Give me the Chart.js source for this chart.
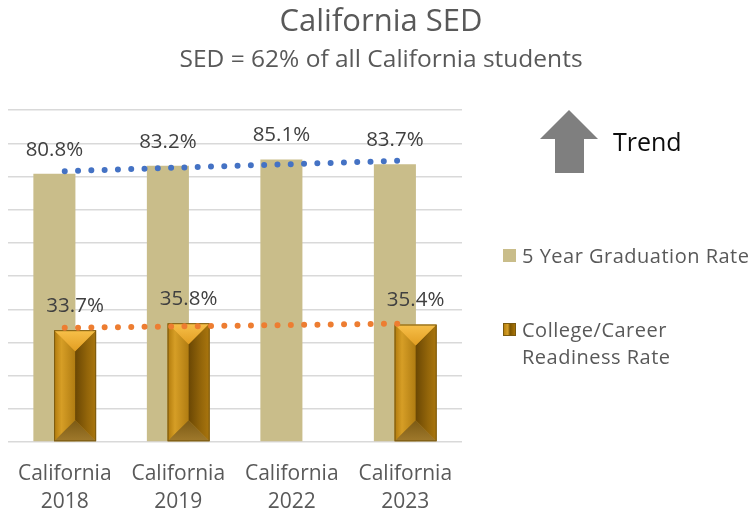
<!DOCTYPE html>
<html><head><meta charset="utf-8">
<script src="https://cdn.jsdelivr.net/npm/chart.js@4.4.1/dist/chart.umd.min.js"></script>
<style>
html,body{margin:0;padding:0;background:#fff;}
#wrap{position:relative;width:754px;height:515px;font-family:'Open Sans',sans-serif;overflow:hidden;}
#c{position:absolute;left:0;top:0;}
.leg{position:absolute;color:#595959;font-size:20px;letter-spacing:0.5px;line-height:27px;white-space:nowrap;}
.sw{position:absolute;width:13px;height:13px;box-sizing:border-box;}
#trend{position:absolute;left:613px;top:126px;font-size:25px;line-height:30px;color:#0d0d0d;}
</style></head><body>
<div id="wrap">
<canvas id="c" width="754" height="515"></canvas>
<svg style="position:absolute;left:538px;top:108px" width="64" height="68"><polygon points="31,2 60,31 46,31 46,65 17,65 17,31 2,31" fill="#7F7F7F"/></svg>
<div id="trend">Trend</div>
<div class="sw" style="left:503px;top:249px;background:#C9BD8A"></div>
<div class="leg" style="left:522px;top:241.5px">5 Year Graduation Rate</div>
<div class="sw" style="left:503px;top:323px;background:linear-gradient(90deg,#B8820F,#D6A02A 35%,#7A5400 55%,#A87408);border:1px solid #7A5A10"></div>
<div class="leg" style="left:522px;top:316px">College/Career<br>Readiness Rate</div>
</div>
<script>
const categories = [['California','2018'],['California','2019'],['California','2022'],['California','2023']];
const gradRate = [80.8, 83.2, 85.1, 83.7];
const ccrRate = [33.7, 35.8, null, 35.4];
const gradTrend = [81.6, null, null, 84.8];
const ccrTrend = [34.4, null, null, 35.7];
const seriesNames = ['5 Year Graduation Rate', 'College/Career Readiness Rate'];
const yMin = 0, yMax = 100, yStep = 10;

const GRAD = 2, CCR = 3;

function drawBevel(chart, meta){
  const ctx = chart.ctx;
  meta.data.forEach((el, i) => {
    if (ccrRate[i] === null) return;
    const p = el.getProps(['x','y','base','width'], true);
    const l = p.x - p.width/2, r = p.x + p.width/2, t = p.y, b = p.base, h = p.width/2;
    ctx.save();
    let g = ctx.createLinearGradient(l,0,p.x,0);
    g.addColorStop(0,'#B07A0C'); g.addColorStop(0.35,'#D69E26'); g.addColorStop(1,'#B07C12');
    ctx.fillStyle = g;
    ctx.beginPath(); ctx.moveTo(l,t); ctx.lineTo(p.x,t+h); ctx.lineTo(p.x,b-h); ctx.lineTo(l,b); ctx.closePath(); ctx.fill();
    g = ctx.createLinearGradient(p.x,0,r,0);
    g.addColorStop(0,'#6A4704'); g.addColorStop(0.6,'#94660A'); g.addColorStop(1,'#AA760E');
    ctx.fillStyle = g;
    ctx.beginPath(); ctx.moveTo(r,t); ctx.lineTo(p.x,t+h); ctx.lineTo(p.x,b-h); ctx.lineTo(r,b); ctx.closePath(); ctx.fill();
    g = ctx.createLinearGradient(0,t,0,t+h);
    g.addColorStop(0,'#F7C04A'); g.addColorStop(1,'#E29E22');
    ctx.fillStyle = g;
    ctx.beginPath(); ctx.moveTo(l,t); ctx.lineTo(r,t); ctx.lineTo(p.x,t+h); ctx.closePath(); ctx.fill();
    g = ctx.createLinearGradient(0,b-h,0,b);
    g.addColorStop(0,'#7C5A14'); g.addColorStop(1,'#A07A2C');
    ctx.fillStyle = g;
    ctx.beginPath(); ctx.moveTo(l,b); ctx.lineTo(r,b); ctx.lineTo(p.x,b-h); ctx.closePath(); ctx.fill();
    ctx.strokeStyle = '#7A5A10'; ctx.lineWidth = 1;
    ctx.strokeRect(l+0.5, t+0.5, p.width-1, b-t-1);
    ctx.restore();
  });
}

const orderPlugin = {
  id: 'orderAndLabels',
  beforeDatasetDraw(chart, args){ if (args.index === CCR) return false; },
  afterDatasetDraw(chart, args){
    if (args.index === GRAD){
      const meta = chart.getDatasetMeta(CCR);
      meta.controller.draw();
      drawBevel(chart, meta);
    }
  },
  afterDatasetsDraw(chart){
    const ctx = chart.ctx;
    ctx.save();
    ctx.font = '20.5px "Open Sans"';
    ctx.fillStyle = '#404040';
    ctx.textAlign = 'center';
    ctx.textBaseline = 'middle';
    [[GRAD, gradRate], [CCR, ccrRate]].forEach(([idx, vals]) => {
      chart.getDatasetMeta(idx).data.forEach((el, i) => {
        if (vals[i] === null) return;
        ctx.fillText(vals[i].toFixed(1) + '%', el.x, el.y - 24);
      });
    });
    ctx.restore();
  }
};

new Chart(document.getElementById('c'), {
  type: 'bar',
  data: {
    labels: categories,
    datasets: [
      { type: 'line', label: 'Trend grad', data: gradTrend, borderColor: '#4472C4', borderWidth: 6,
        borderDash: [0, 13.3], borderCapStyle: 'round', pointRadius: 0, spanGaps: true, fill: false, tension: 0 },
      { type: 'line', label: 'Trend ccr', data: ccrTrend, borderColor: '#ED7D31', borderWidth: 6,
        borderDash: [0, 13.3], borderCapStyle: 'round', pointRadius: 0, spanGaps: true, fill: false, tension: 0 },
      { label: seriesNames[0], data: gradRate, backgroundColor: '#C9BD8A',
        categoryPercentage: 0.365, barPercentage: 2.03 },
      { label: seriesNames[1], data: ccrRate, backgroundColor: '#C08A18', borderColor: '#7A5A10', borderWidth: 1,
        categoryPercentage: 0.365, barPercentage: 2.03 }
    ]
  },
  options: {
    responsive: false,
    animation: false,
    devicePixelRatio: 1,
    layout: { padding: { left: 8, right: 0, top: 0, bottom: -11 } },
    plugins: {
      legend: { display: false },
      tooltip: { enabled: false },
      title: { display: true, text: 'California SED', color: '#595959',
        font: { family: 'Open Sans', size: 31, weight: 'normal', lineHeight: 1.2 }, padding: { top: 4, bottom: 2 } },
      subtitle: { display: true, text: 'SED = 62% of all California students', color: '#595959',
        font: { family: 'Open Sans', size: 24.5, weight: 'normal', lineHeight: 1.2 }, padding: { top: 2, bottom: 35.5 } }
    },
    scales: {
      x: {
        grid: { display: false }, border: { display: false },
        ticks: { color: '#595959', font: { family: 'Open Sans', size: 21, lineHeight: 1.38 }, padding: 9,
          maxRotation: 0, autoSkip: false }
      },
      y: {
        min: yMin, max: yMax,
        ticks: { display: false, stepSize: yStep },
        grid: { color: '#D9D9D9', lineWidth: 1.5, drawTicks: false },
        border: { display: false }
      },
      yRight: {
        position: 'right', display: true, min: yMin, max: yMax,
        ticks: { display: false }, grid: { display: false, drawTicks: false }, border: { display: false },
        afterFit(scale){ scale.width = 292; }
      }
    }
  },
  plugins: [orderPlugin]
});
</script>
</body></html>
